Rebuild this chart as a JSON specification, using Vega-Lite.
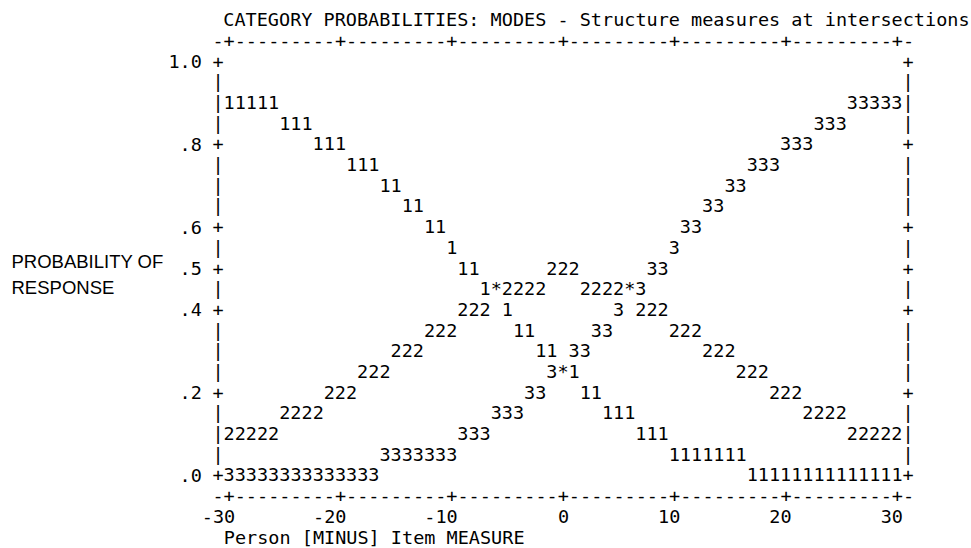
{
  "$schema": "https://vega.github.io/schema/vega-lite/v6.json",
  "width": 690,
  "height": 455,
  "autosize": {"type": "none"},
  "padding": {"left": 218, "top": 41, "right": 63, "bottom": 52},
  "background": "white",
  "title": {
    "text": "CATEGORY PROBABILITIES: MODES - Structure measures at intersections",
    "anchor": "start",
    "frame": "group",
    "dx": 5.3,
    "dy": 17.6,
    "offset": 11.3,
    "baseline": "middle",
    "font": "DejaVu Sans Mono",
    "fontSize": 18.5,
    "fontWeight": "normal",
    "color": "black"
  },
  "config": {"view": {"stroke": null}},
  "data": {
    "values": [
      {"m": -31, "p": 1.05, "t": "-+---------+---------+---------+---------+---------+---------+-", "k": "axis"},
      {"m": -31, "p": -0.05, "t": "-+---------+---------+---------+---------+---------+---------+-", "k": "axis"},
      {"m": -31, "p": 1.00, "t": "+", "k": "border"},
      {"m": -31, "p": 0.95, "t": "|", "k": "border"},
      {"m": -31, "p": 0.90, "t": "|", "k": "border"},
      {"m": -31, "p": 0.85, "t": "|", "k": "border"},
      {"m": -31, "p": 0.80, "t": "+", "k": "border"},
      {"m": -31, "p": 0.75, "t": "|", "k": "border"},
      {"m": -31, "p": 0.70, "t": "|", "k": "border"},
      {"m": -31, "p": 0.65, "t": "|", "k": "border"},
      {"m": -31, "p": 0.60, "t": "+", "k": "border"},
      {"m": -31, "p": 0.55, "t": "|", "k": "border"},
      {"m": -31, "p": 0.50, "t": "+", "k": "border"},
      {"m": -31, "p": 0.45, "t": "|", "k": "border"},
      {"m": -31, "p": 0.40, "t": "+", "k": "border"},
      {"m": -31, "p": 0.35, "t": "|", "k": "border"},
      {"m": -31, "p": 0.30, "t": "|", "k": "border"},
      {"m": -31, "p": 0.25, "t": "|", "k": "border"},
      {"m": -31, "p": 0.20, "t": "+", "k": "border"},
      {"m": -31, "p": 0.15, "t": "|", "k": "border"},
      {"m": -31, "p": 0.10, "t": "|", "k": "border"},
      {"m": -31, "p": 0.05, "t": "|", "k": "border"},
      {"m": -31, "p": 0.00, "t": "+", "k": "border"},
      {"m": 31, "p": 1.00, "t": "+", "k": "border"},
      {"m": 31, "p": 0.95, "t": "|", "k": "border"},
      {"m": 31, "p": 0.90, "t": "|", "k": "border"},
      {"m": 31, "p": 0.85, "t": "|", "k": "border"},
      {"m": 31, "p": 0.80, "t": "+", "k": "border"},
      {"m": 31, "p": 0.75, "t": "|", "k": "border"},
      {"m": 31, "p": 0.70, "t": "|", "k": "border"},
      {"m": 31, "p": 0.65, "t": "|", "k": "border"},
      {"m": 31, "p": 0.60, "t": "+", "k": "border"},
      {"m": 31, "p": 0.55, "t": "|", "k": "border"},
      {"m": 31, "p": 0.50, "t": "+", "k": "border"},
      {"m": 31, "p": 0.45, "t": "|", "k": "border"},
      {"m": 31, "p": 0.40, "t": "+", "k": "border"},
      {"m": 31, "p": 0.35, "t": "|", "k": "border"},
      {"m": 31, "p": 0.30, "t": "|", "k": "border"},
      {"m": 31, "p": 0.25, "t": "|", "k": "border"},
      {"m": 31, "p": 0.20, "t": "+", "k": "border"},
      {"m": 31, "p": 0.15, "t": "|", "k": "border"},
      {"m": 31, "p": 0.10, "t": "|", "k": "border"},
      {"m": 31, "p": 0.05, "t": "|", "k": "border"},
      {"m": 31, "p": 0.00, "t": "+", "k": "border"},

      {"m": -30, "p": 0.90, "t": "11111", "k": "1"},
      {"m": 26, "p": 0.90, "t": "33333", "k": "3"},
      {"m": -25, "p": 0.85, "t": "111", "k": "1"},
      {"m": 23, "p": 0.85, "t": "333", "k": "3"},
      {"m": -22, "p": 0.80, "t": "111", "k": "1"},
      {"m": 20, "p": 0.80, "t": "333", "k": "3"},
      {"m": -19, "p": 0.75, "t": "111", "k": "1"},
      {"m": 17, "p": 0.75, "t": "333", "k": "3"},
      {"m": -16, "p": 0.70, "t": "11", "k": "1"},
      {"m": 15, "p": 0.70, "t": "33", "k": "3"},
      {"m": -14, "p": 0.65, "t": "11", "k": "1"},
      {"m": 13, "p": 0.65, "t": "33", "k": "3"},
      {"m": -12, "p": 0.60, "t": "11", "k": "1"},
      {"m": 11, "p": 0.60, "t": "33", "k": "3"},
      {"m": -10, "p": 0.55, "t": "1", "k": "1"},
      {"m": 10, "p": 0.55, "t": "3", "k": "3"},
      {"m": -9, "p": 0.50, "t": "11", "k": "1"},
      {"m": -1, "p": 0.50, "t": "222", "k": "2"},
      {"m": 8, "p": 0.50, "t": "33", "k": "3"},
      {"m": -7, "p": 0.45, "t": "1", "k": "1"},
      {"m": -6, "p": 0.45, "t": "*", "k": "*"},
      {"m": -5, "p": 0.45, "t": "2222", "k": "2"},
      {"m": 2, "p": 0.45, "t": "2222", "k": "2"},
      {"m": 6, "p": 0.45, "t": "*", "k": "*"},
      {"m": 7, "p": 0.45, "t": "3", "k": "3"},
      {"m": -9, "p": 0.40, "t": "222", "k": "2"},
      {"m": -5, "p": 0.40, "t": "1", "k": "1"},
      {"m": 5, "p": 0.40, "t": "3", "k": "3"},
      {"m": 7, "p": 0.40, "t": "222", "k": "2"},
      {"m": -12, "p": 0.35, "t": "222", "k": "2"},
      {"m": -4, "p": 0.35, "t": "11", "k": "1"},
      {"m": 3, "p": 0.35, "t": "33", "k": "3"},
      {"m": 10, "p": 0.35, "t": "222", "k": "2"},
      {"m": -15, "p": 0.30, "t": "222", "k": "2"},
      {"m": -2, "p": 0.30, "t": "11", "k": "1"},
      {"m": 1, "p": 0.30, "t": "33", "k": "3"},
      {"m": 13, "p": 0.30, "t": "222", "k": "2"},
      {"m": -18, "p": 0.25, "t": "222", "k": "2"},
      {"m": -1, "p": 0.25, "t": "3", "k": "3"},
      {"m": 0, "p": 0.25, "t": "*", "k": "*"},
      {"m": 1, "p": 0.25, "t": "1", "k": "1"},
      {"m": 16, "p": 0.25, "t": "222", "k": "2"},
      {"m": -21, "p": 0.20, "t": "222", "k": "2"},
      {"m": -3, "p": 0.20, "t": "33", "k": "3"},
      {"m": 2, "p": 0.20, "t": "11", "k": "1"},
      {"m": 19, "p": 0.20, "t": "222", "k": "2"},
      {"m": -25, "p": 0.15, "t": "2222", "k": "2"},
      {"m": -6, "p": 0.15, "t": "333", "k": "3"},
      {"m": 4, "p": 0.15, "t": "111", "k": "1"},
      {"m": 22, "p": 0.15, "t": "2222", "k": "2"},
      {"m": -30, "p": 0.10, "t": "22222", "k": "2"},
      {"m": -9, "p": 0.10, "t": "333", "k": "3"},
      {"m": 7, "p": 0.10, "t": "111", "k": "1"},
      {"m": 26, "p": 0.10, "t": "22222", "k": "2"},
      {"m": -16, "p": 0.05, "t": "3333333", "k": "3"},
      {"m": 10, "p": 0.05, "t": "1111111", "k": "1"},
      {"m": -30, "p": 0.00, "t": "33333333333333", "k": "3"},
      {"m": 17, "p": 0.00, "t": "11111111111111", "k": "1"}
    ]
  },
  "mark": {
    "type": "text",
    "align": "left",
    "baseline": "middle",
    "dx": -5.56,
    "font": "DejaVu Sans Mono",
    "fontSize": 18.5,
    "color": "black"
  },
  "encoding": {
    "x": {
      "field": "m",
      "type": "quantitative",
      "scale": {"domain": [-31, 31], "nice": false, "zero": false},
      "axis": {
        "orient": "bottom",
        "values": [-30, -20, -10, 0, 10, 20, 30],
        "domain": false,
        "ticks": false,
        "tickSize": 0,
        "grid": false,
        "labelExpr": "'' + datum.value",
        "labelAlign": "right",
        "labelBaseline": "middle",
        "labelOffset": 5.56,
        "labelPadding": 20.6,
        "labelFont": "DejaVu Sans Mono",
        "labelFontSize": 18.5,
        "labelColor": "black",
        "labelFlush": false,
        "labelOverlap": false,
        "labelBound": false,
        "title": "Person [MINUS] Item MEASURE",
        "titleFont": "DejaVu Sans Mono",
        "titleFontSize": 18.5,
        "titleFontWeight": "normal",
        "titleColor": "black",
        "titleAlign": "left",
        "titleBaseline": "middle",
        "titleX": 5.3,
        "titleY": 41.3
      }
    },
    "y": {
      "field": "p",
      "type": "quantitative",
      "scale": {"domain": [-0.05, 1.05], "nice": false, "zero": false},
      "axis": {
        "orient": "left",
        "values": [0, 0.2, 0.4, 0.5, 0.6, 0.8, 1],
        "domain": false,
        "ticks": false,
        "tickSize": 0,
        "grid": false,
        "labelExpr": "datum.value >= 0.99 ? '1.0' : '.' + round(datum.value * 10)",
        "labelAlign": "right",
        "labelBaseline": "middle",
        "labelPadding": 16.7,
        "labelFont": "DejaVu Sans Mono",
        "labelFontSize": 18.5,
        "labelColor": "black",
        "labelOverlap": false,
        "labelBound": false,
        "labelFlush": false,
        "title": ["PROBABILITY OF", "RESPONSE"],
        "titleFont": "Liberation Sans",
        "titleFontSize": 18.5,
        "titleFontWeight": "normal",
        "titleColor": "black",
        "titleAngle": 0,
        "titleAlign": "left",
        "titleBaseline": "alphabetic",
        "titleLineHeight": 26,
        "titleX": -207,
        "titleY": 226
      }
    },
    "text": {"field": "t", "type": "nominal"}
  }
}
